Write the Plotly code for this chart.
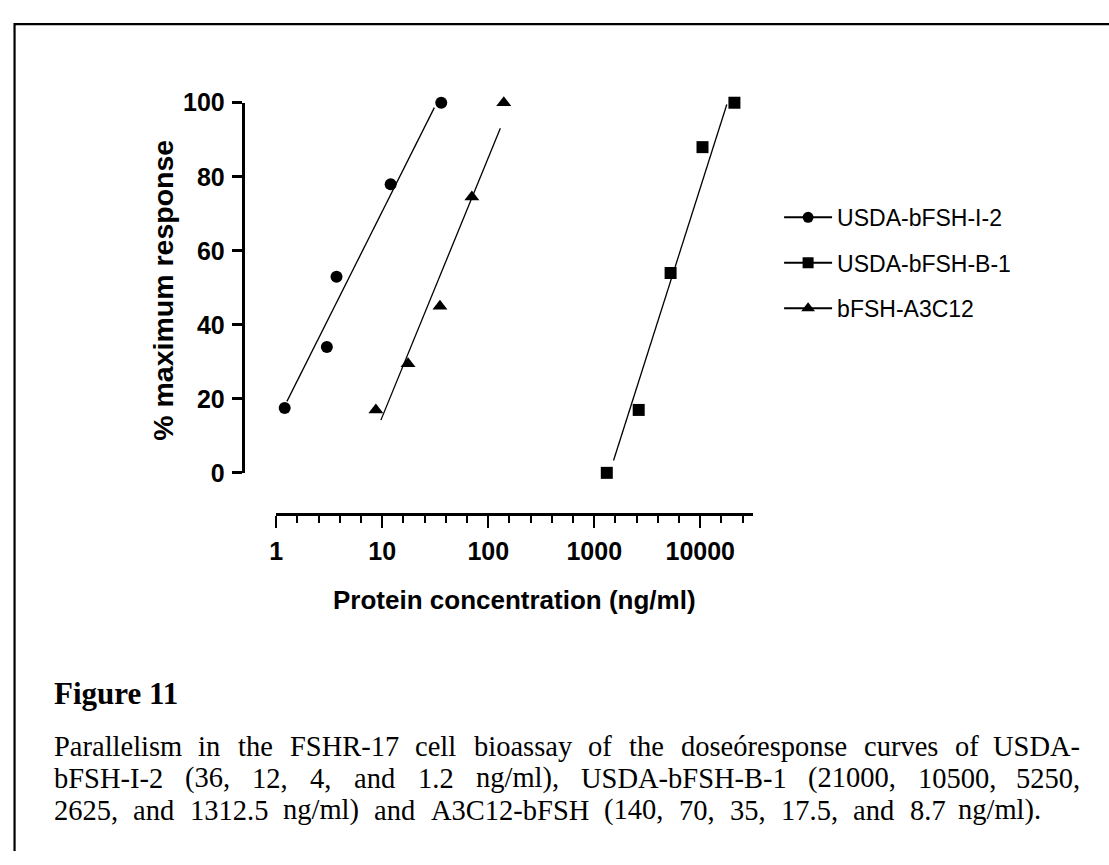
import numpy as np
import plotly.graph_objects as go

W, H = 1109, 865

# ---------------- data ----------------
series_names = ["USDA-bFSH-I-2", "USDA-bFSH-B-1", "bFSH-A3C12"]

i2_conc = [1.2, 3.0, 3.7, 12, 36]
i2_resp = [17.5, 34, 53, 78, 100]

b1_conc = [1312.5, 2625, 5250, 10500, 21000]
b1_resp = [0, 17, 54, 88, 100]

a3_conc = [8.7, 17.5, 35, 70, 140]
a3_resp = [17, 29.5, 45, 74.5, 100]

# extent of each fitted regression line (ng/ml)
i2_fit_span = [1.26, 31]
b1_fit_span = [1520, 17800]
a3_fit_span = [9.7, 130]

x_tickvals = [1, 10, 100, 1000, 10000]
x_ticktext = ["1", "10", "100", "1000", "10000"]
y_tickvals = [0, 20, 40, 60, 80, 100]

caption_title = "Figure 11"
caption_lines = [
    "Parallelism in the FSHR-17 cell bioassay of the dose\u00f3response curves of USDA-",
    "bFSH-I-2 (36, 12, 4, and 1.2 ng/ml), USDA-bFSH-B-1 (21000, 10500, 5250,",
    "2625, and 1312.5 ng/ml) and A3C12-bFSH (140, 70, 35, 17.5, and 8.7 ng/ml).",
]

# ---------------- helpers ----------------
def px(x):
    return x / W


def py(y):
    return 1 - y / H


SANS = "Liberation Sans, Arial, sans-serif"
SERIF = "Liberation Serif, Times New Roman, serif"

# Times New Roman / Liberation Serif advance widths (per em), used to space words
_TW = {}
_TW.update({c: 0.444 for c in "acez"})
_TW.update({c: 0.5 for c in "bdghknopquvxy0123456789\u00f3"})
_TW.update({c: 0.333 for c in "fr-()I"})
_TW.update({c: 0.278 for c in "ijlt/"})
_TW.update({"m": 0.778, "s": 0.389, "w": 0.722, ",": 0.25, ".": 0.25, " ": 0.25})
_TW.update({c: 0.722 for c in "ADHUNOGKVXY"})
_TW.update({c: 0.667 for c in "BCR"})
_TW.update({c: 0.556 for c in "FPS"})
_TW.update({c: 0.611 for c in "ETLZ"})


def text_w(s, fs):
    return sum(_TW.get(c, 0.5) for c in s) * fs


fig = go.Figure()

series = [
    (series_names[0], i2_conc, i2_resp, i2_fit_span, "circle", 12),
    (series_names[1], b1_conc, b1_resp, b1_fit_span, "square", 12),
    (series_names[2], a3_conc, a3_resp, a3_fit_span, "triangle-up", 13),
]

for k, (name, conc, resp, span, sym, size) in enumerate(series):
    slope, icpt = np.polyfit(np.log10(conc), resp, 1)
    fx = np.array(span, dtype=float)
    fy = slope * np.log10(fx) + icpt
    fig.add_trace(go.Scatter(
        x=fx, y=fy, mode="lines",
        line=dict(color="black", width=1.3),
        showlegend=False, hoverinfo="skip", cliponaxis=False,
    ))
    fig.add_trace(go.Scatter(
        x=conc, y=resp, mode="markers",
        marker=dict(symbol=sym, size=size, color="black"),
        showlegend=False, cliponaxis=False, name=name,
    ))
    # legend entry (line + marker)
    fig.add_trace(go.Scatter(
        x=[None], y=[None], mode="lines+markers", name=name,
        legendgroup="g%d" % k,
        marker=dict(symbol=sym, size=size - 1, color="black"),
        line=dict(color="black", width=2),
    ))

x0, x1 = 271, 751
ytop, ybot = 91.7, 474.2

fig.update_layout(
    width=W, height=H,
    margin=dict(l=0, r=0, t=0, b=0),
    paper_bgcolor="white", plot_bgcolor="white",
    xaxis=dict(
        type="log", range=[0, 4.5],
        domain=[px(x0), px(x1)],
        anchor="free", position=py(516.7),
        showline=True, linecolor="black", linewidth=2.5,
        showgrid=False, zeroline=False,
        tickmode="array", tickvals=x_tickvals, ticktext=x_ticktext,
        ticks="outside", ticklen=12, tickwidth=2, tickcolor="black",
        ticklabelstandoff=2,
        tickfont=dict(family=SANS, size=25, color="black", weight="bold"),
        minor=dict(
            tickvals=[10 ** (k * 0.2) for k in range(1, 23) if k % 5 != 0],
            ticks="outside", ticklen=7, tickwidth=2, tickcolor="black",
            showgrid=False,
        ),
    ),
    yaxis=dict(
        range=[0, 100],
        domain=[py(ybot), py(ytop)],
        anchor="free", position=px(237),
        showline=True, linecolor="black", linewidth=2.5,
        showgrid=False, zeroline=False,
        tickmode="array", tickvals=y_tickvals,
        ticks="outside", ticklen=10, tickwidth=2.5, tickcolor="black",
        ticklabelstandoff=2,
        tickfont=dict(family=SANS, size=25, color="black", weight="bold"),
    ),
    legend=dict(
        x=px(777), y=py(188), xanchor="left", yanchor="top",
        font=dict(family=SANS, size=23, color="black"),
        tracegroupgap=12.5, itemwidth=48, bgcolor="rgba(0,0,0,0)",
    ),
    showlegend=True,
)

annotations = [
    dict(text="% maximum response", x=px(157), y=py(286), xref="paper", yref="paper",
         textangle=-90, showarrow=False, xanchor="center", yanchor="middle",
         font=dict(family=SANS, size=28.5, color="black", weight="bold")),
    dict(text="Protein concentration (ng/ml)", x=px(511), y=py(606), xref="paper", yref="paper",
         showarrow=False, xanchor="center", yanchor="middle",
         font=dict(family=SANS, size=26, color="black", weight="bold")),
    dict(text=caption_title, x=px(46), y=py(702), xref="paper", yref="paper",
         showarrow=False, xanchor="left", yanchor="middle", borderpad=0,
         font=dict(family=SERIF, size=31, color="black", weight="bold")),
]

# caption: lines 1-2 justified, line 3 spread to its natural (wider) width
CAP_FS = 28.5
CAP_LEFT = 46
CAP_RIGHTS = [1081, 1081, 1042]
for i, line in enumerate(caption_lines):
    yc = py(757 + 33 * i)
    words = line.split(" ")
    widths = [text_w(w, CAP_FS) for w in words]
    gap = (CAP_RIGHTS[i] - CAP_LEFT - sum(widths)) / (len(words) - 1)
    xpos = CAP_LEFT
    for j, (wd, wdw) in enumerate(zip(words, widths)):
        last = j == len(words) - 1
        annotations.append(dict(
            text=wd, x=px(CAP_RIGHTS[i] if last else xpos), y=yc,
            xref="paper", yref="paper", showarrow=False,
            xanchor="right" if last else "left", yanchor="middle", borderpad=0,
            font=dict(family=SERIF, size=CAP_FS, color="black")))
        xpos += wdw + gap
fig.update_layout(annotations=annotations)

# page frame (top and left rules)
fig.add_shape(type="path", xref="paper", yref="paper",
              path="M %f,%f L %f,%f L %f,%f" % (px(7.6), 0, px(7.6), py(10.5), 1.0, py(10.5)),
              line=dict(color="black", width=2.2))

fig.write_html(
    "out.html",
    config={"displayModeBar": False},
    post_script="document.body.style.margin='0';",
)
